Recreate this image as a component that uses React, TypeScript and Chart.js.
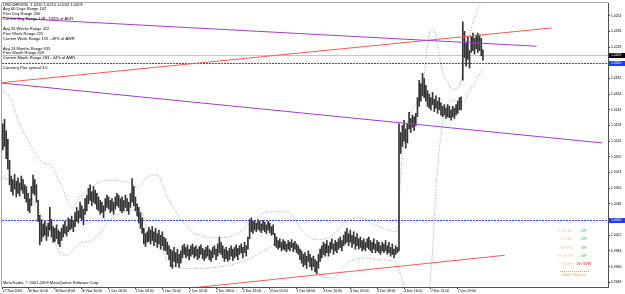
import React, { useEffect, useRef } from 'react';
import { Chart, registerables } from 'chart.js';

Chart.register(...registerables);

// ---------- text content ----------
const chartTitle = 'USDCHF,M30  1.0210 1.0215 1.0203 1.0209';
const infoLines = [
  'Avg 60 Days Range 102',
  'Prev Day Range 200',
  'Current Day Range 128 - 126% of ADR',
  '',
  'Avg 26 Weeks Range 322',
  'Prev Week Range 225',
  'Current Week Range 159 - 49% of AWR',
  '',
  'Avg 24 Months Range 635',
  'Prev Month Range 426',
  'Current Month Range 283 - 44% of AMR',
  '',
  'Currency Pair spread 3.0',
];
const copyrightText = 'MetaTrader, \u00a9 2001-2009 MetaQuotes Software Corp.';
const moveLabels = ['TODAY', 'Y-DAY', 'WEEK', 'MONTH', 'YEAR'];
const moveValues = ['UP', 'UP', 'UP', 'UP', 'DOWN'];
const movesTitle = 'Main Moves';

// ---------- axes ----------
const xTickIndex = [0, 15, 31, 47, 63, 79, 95, 111, 127, 143, 159, 175, 191, 207, 223, 239, 255, 271];
const xTickLabels = [
  '27 Nov 2009', '30 Nov 00:00', '30 Nov 08:00', '30 Nov 16:00', '1 Dec 00:00', '1 Dec 08:00',
  '1 Dec 16:00', '2 Dec 00:00', '2 Dec 08:00', '2 Dec 16:00', '3 Dec 00:00', '3 Dec 08:00',
  '3 Dec 16:00', '4 Dec 00:00', '4 Dec 08:00', '4 Dec 16:00', '7 Dec 01:00', '7 Dec 09:00',
];
const xSlots = 361;
const yTickValues = [
  0.9948, 0.9966, 0.9984, 1.0002, 1.0020, 1.0038, 1.0056, 1.0074, 1.0092,
  1.0110, 1.0128, 1.0146, 1.0164, 1.0182, 1.0200, 1.0218, 1.0236, 1.0254,
];
const yMin = 0.99426;
const yMax = 1.02686;

// ---------- price bars (M30 high / low) ----------
const barHigh = [
  1.0130, 1.0135, 1.0122, 1.0112, 1.0088, 1.0070, 1.0066, 1.0072, 1.0064, 1.0068,
  1.0062, 1.0070, 1.0066, 1.0060, 1.0058, 1.0050, 1.0044, 1.0058, 1.0071, 1.0066,
  1.0060, 1.0042, 1.0025, 1.0020, 1.0015, 1.0018, 1.0012, 1.0016, 1.0034, 1.0020,
  1.0012, 1.0010, 1.0014, 1.0008, 1.0006, 1.0010, 1.0014, 1.0018, 1.0012, 1.0022,
  1.0020, 1.0024, 1.0019, 1.0028, 1.0034, 1.0030, 1.0040, 1.0036, 1.0032, 1.0044,
  1.0048, 1.0056, 1.0060, 1.0052, 1.0058, 1.0054, 1.0050, 1.0046, 1.0042, 1.0040,
  1.0036, 1.0044, 1.0048, 1.0046, 1.0042, 1.0044, 1.0040, 1.0046, 1.0050, 1.0048,
  1.0044, 1.0046, 1.0042, 1.0048, 1.0044, 1.0040, 1.0050, 1.0067, 1.0058, 1.0046,
  1.0038, 1.0034, 1.0028, 1.0022, 1.0010, 1.0004, 1.0006, 1.0011, 1.0008, 1.0012,
  1.0006, 1.0010, 1.0004, 1.0008, 1.0002, 1.0006, 1.0000, 0.9998, 0.9994, 0.9990,
  0.9986, 0.9984, 0.9988, 0.9982, 0.9986, 0.9980, 0.9984, 0.9990, 0.9992, 0.9988,
  0.9991, 0.9986, 0.9990, 0.9992, 0.9988, 0.9990, 0.9986, 0.9989, 0.9991, 0.9987,
  0.9985, 0.9988, 0.9990, 0.9986, 0.9984, 0.9988, 0.9990, 0.9986, 0.9992, 1.0000,
  0.9994, 0.9990, 0.9986, 0.9988, 0.9984, 0.9987, 0.9990, 0.9986, 0.9988, 0.9991,
  0.9987, 0.9990, 0.9992, 0.9988, 0.9994, 0.9990, 1.0000, 1.0020, 1.0022, 1.0018,
  1.0019, 1.0016, 1.0020, 1.0018, 1.0015, 1.0019, 1.0017, 1.0014, 1.0018, 1.0016,
  1.0012, 1.0014, 1.0004, 1.0000, 0.9996, 0.9998, 0.9994, 0.9997, 0.9995, 0.9992,
  0.9996, 0.9994, 0.9997, 0.9993, 0.9995, 0.9992, 0.9990, 0.9986, 0.9984, 0.9980,
  0.9982, 0.9978, 0.9984, 0.9980, 0.9976, 0.9978, 0.9974, 0.9972, 0.9980, 0.9986,
  0.9990, 0.9994, 0.9992, 0.9996, 0.9990, 0.9994, 0.9998, 0.9992, 0.9996, 0.9994,
  0.9998, 1.0000, 0.9996, 1.0002, 1.0006, 1.0010, 1.0004, 1.0008, 1.0002, 1.0006,
  1.0000, 1.0004, 0.9998, 1.0000, 0.9996, 0.9998, 0.9994, 0.9998, 1.0000, 0.9996,
  0.9994, 0.9998, 0.9992, 0.9996, 0.9994, 0.9990, 0.9994, 0.9992, 0.9996, 0.9990,
  0.9994, 0.9988, 0.9992, 0.9986, 0.9990, 0.9988, 1.0130, 1.0120, 1.0128, 1.0134,
  1.0124, 1.0130, 1.0143, 1.0136, 1.0140, 1.0138, 1.0142, 1.0160, 1.0180, 1.0176,
  1.0188, 1.0182, 1.0174, 1.0168, 1.0164, 1.0160, 1.0166, 1.0158, 1.0162, 1.0156,
  1.0160, 1.0154, 1.0150, 1.0152, 1.0148, 1.0152, 1.0150, 1.0146, 1.0150, 1.0148,
  1.0152, 1.0156, 1.0160, 1.0161, 1.0247, 1.0236, 1.0224, 1.0230, 1.0214, 1.0230,
  1.0234, 1.0228, 1.0232, 1.0234, 1.0232, 1.0228, 1.0215,
];
const barLow = [
  1.0100, 1.0104, 1.0090, 1.0078, 1.0060, 1.0052, 1.0048, 1.0055, 1.0046, 1.0050,
  1.0047, 1.0054, 1.0050, 1.0044, 1.0040, 1.0030, 1.0028, 1.0036, 1.0050, 1.0048,
  1.0040, 1.0018, 0.9991, 0.9995, 1.0000, 1.0002, 0.9996, 1.0001, 1.0008, 1.0000,
  0.9994, 0.9995, 0.9998, 0.9992, 0.9989, 0.9996, 1.0000, 1.0004, 1.0001, 1.0006,
  1.0008, 1.0010, 1.0006, 1.0012, 1.0018, 1.0016, 1.0022, 1.0020, 1.0014, 1.0026,
  1.0030, 1.0038, 1.0042, 1.0036, 1.0040, 1.0038, 1.0032, 1.0030, 1.0026, 1.0028,
  1.0022, 1.0030, 1.0034, 1.0032, 1.0028, 1.0030, 1.0026, 1.0032, 1.0036, 1.0034,
  1.0030, 1.0028, 1.0030, 1.0034, 1.0030, 1.0026, 1.0034, 1.0040, 1.0036, 1.0030,
  1.0024, 1.0016, 1.0010, 1.0004, 0.9992, 0.9989, 0.9994, 0.9995, 0.9992, 0.9996,
  0.9990, 0.9994, 0.9988, 0.9992, 0.9986, 0.9990, 0.9985, 0.9984, 0.9980, 0.9974,
  0.9966, 0.9964, 0.9972, 0.9966, 0.9970, 0.9965, 0.9970, 0.9976, 0.9980, 0.9976,
  0.9978, 0.9974, 0.9978, 0.9980, 0.9976, 0.9978, 0.9974, 0.9976, 0.9980, 0.9975,
  0.9973, 0.9976, 0.9978, 0.9974, 0.9972, 0.9976, 0.9980, 0.9974, 0.9978, 0.9982,
  0.9980, 0.9976, 0.9972, 0.9975, 0.9972, 0.9974, 0.9978, 0.9973, 0.9976, 0.9978,
  0.9974, 0.9980, 0.9982, 0.9976, 0.9982, 0.9978, 0.9986, 0.9998, 1.0006, 1.0004,
  1.0008, 1.0006, 1.0009, 1.0007, 1.0005, 1.0008, 1.0006, 1.0004, 1.0008, 1.0005,
  1.0002, 1.0003, 0.9990, 0.9988, 0.9986, 0.9988, 0.9984, 0.9986, 0.9985, 0.9983,
  0.9986, 0.9984, 0.9988, 0.9983, 0.9986, 0.9982, 0.9980, 0.9974, 0.9970, 0.9966,
  0.9968, 0.9964, 0.9972, 0.9966, 0.9962, 0.9966, 0.9960, 0.9958, 0.9964, 0.9972,
  0.9976, 0.9980, 0.9978, 0.9982, 0.9978, 0.9982, 0.9986, 0.9980, 0.9984, 0.9982,
  0.9986, 0.9988, 0.9984, 0.9990, 0.9992, 0.9994, 0.9990, 0.9994, 0.9988, 0.9992,
  0.9986, 0.9990, 0.9986, 0.9988, 0.9984, 0.9986, 0.9984, 0.9988, 0.9986, 0.9984,
  0.9982, 0.9986, 0.9982, 0.9984, 0.9982, 0.9980, 0.9984, 0.9982, 0.9984, 0.9980,
  0.9982, 0.9978, 0.9980, 0.9976, 0.9980, 0.9982, 0.9984, 1.0096, 1.0104, 1.0110,
  1.0102, 1.0108, 1.0124, 1.0120, 1.0126, 1.0122, 1.0128, 1.0138, 1.0150, 1.0156,
  1.0162, 1.0160, 1.0156, 1.0150, 1.0148, 1.0146, 1.0152, 1.0144, 1.0148, 1.0142,
  1.0146, 1.0140, 1.0138, 1.0140, 1.0136, 1.0138, 1.0137, 1.0134, 1.0138, 1.0136,
  1.0140, 1.0142, 1.0146, 1.0146, 1.0180, 1.0206, 1.0196, 1.0204, 1.0194, 1.0212,
  1.0214, 1.0210, 1.0216, 1.0212, 1.0214, 1.0208, 1.0203,
];

// ---------- Bollinger-style envelope (dotted) ----------
const upperBandIdx = [
  0, 5, 9, 15, 24, 28, 36, 41, 47, 58, 66, 78, 80, 86, 92, 98, 106, 114, 126, 138, 150, 158, 170,
  178, 186, 196, 204, 212, 222, 230, 235, 237, 240, 244, 248, 251, 253, 255, 257, 259, 262, 265,
  268, 271, 273, 275, 278, 281, 284, 286,
];
const upperBand = [
  1.0169, 1.0157, 1.0134, 1.0111, 1.0085, 1.0083, 1.0054, 1.0034, 1.0048, 1.0063, 1.0065, 1.0060,
  1.0057, 1.0069, 1.0071, 1.0046, 1.0020, 1.0005, 0.9999, 1.0002, 1.0020, 1.0029, 1.0029,
  1.0008, 0.9997, 1.0001, 1.0017, 1.0022, 1.0014, 1.0008, 1.0006, 1.0071, 1.0123, 1.0146,
  1.0160, 1.0186, 1.0220, 1.0240, 1.0238, 1.0220, 1.0189, 1.0178, 1.0169, 1.0171, 1.0180,
  1.0203, 1.0232, 1.0251, 1.0266, 1.0272,
];
const lowerBandIdx = [
  0, 15, 22, 28, 34, 38, 46, 54, 64, 78, 82, 86, 94, 98, 106, 118, 146, 156, 164, 178, 188, 196,
  206, 214, 224, 234, 237, 240, 244, 250, 254, 256, 258, 261, 264, 268, 272, 275, 280, 286,
];
const lowerBand = [
  1.0069, 1.0051, 1.0028, 1.0008, 0.9982, 0.9979, 0.9993, 0.9997, 1.0020, 1.0031, 1.0031, 1.0008,
  0.9989, 0.9974, 0.9964, 0.9964, 0.9974, 0.9985, 0.9991, 0.9982, 0.9956, 0.9953, 0.9971,
  0.9976, 0.9974, 0.9971, 0.9956, 0.9937, 0.9922, 0.9922, 0.9939, 0.9985, 1.0054, 1.0117,
  1.0148, 1.0157, 1.0154, 1.0157, 1.0174, 1.0194,
];

// ---------- trend lines & levels ----------
const purpleTopIdx = [-2, 318];
const purpleTopPrice = [1.0252, 1.0219];
const purpleLowIdx = [-2, 357];
const purpleLowPrice = [1.0177, 1.0108];
const redTopIdx = [-2, 327];
const redTopPrice = [1.0177, 1.0240];
const redLowIdx = [110, 299];
const redLowPrice = [0.9941, 0.9979];
const bidPrice = 1.0209;
const levelPrices = [1.0200, 1.0020];

const FONT = '"Liberation Sans", Arial, sans-serif';

function lineSet(idx: number[], vals: number[], color: string, extra: any = {}) {
  return {
    type: 'line' as const,
    data: idx.map((x, k) => ({ x, y: vals[k] })),
    borderColor: color,
    borderWidth: 1,
    pointRadius: 0,
    fill: false,
    order: 1,
    ...extra,
  };
}

const overlayPlugin = {
  id: 'mtOverlay',
  beforeDraw(chart: any) {
    const { ctx, width, height } = chart;
    ctx.save();
    ctx.fillStyle = '#ffffff';
    ctx.fillRect(0, 0, width, height);
    ctx.restore();
  },
  beforeDatasetsDraw(chart: any) {
    // horizontal price levels, pixel-snapped through the y scale
    const { ctx, chartArea: a, scales } = chart;
    const ys = scales.y;
    ctx.save();
    ctx.lineWidth = 1;
    const hline = (p: number, color: string, dash: number[]) => {
      const py = Math.round(ys.getPixelForValue(p)) + 0.5;
      ctx.strokeStyle = color;
      ctx.setLineDash(dash);
      ctx.beginPath();
      ctx.moveTo(a.left, py);
      ctx.lineTo(a.right, py);
      ctx.stroke();
    };
    hline(bidPrice, '#c4c4c4', []);
    levelPrices.forEach((p) => hline(p, '#3344ff', [2, 1]));
    ctx.restore();
  },
  afterDraw(chart: any) {
    const { ctx, chartArea: a, scales, width } = chart;
    const ys = scales.y;
    ctx.save();
    // window frame (top + left)
    ctx.strokeStyle = '#a8a8a8';
    ctx.lineWidth = 1;
    ctx.beginPath();
    ctx.moveTo(a.left - 0.5, a.bottom);
    ctx.lineTo(a.left - 0.5, a.top - 0.5);
    ctx.lineTo(a.right, a.top - 0.5);
    ctx.stroke();

    // info block
    ctx.font = `4px ${FONT}`;
    ctx.fillStyle = '#000';
    ctx.textBaseline = 'middle';
    ctx.textAlign = 'left';
    ctx.fillText(chartTitle, a.left + 1, a.top + 1.4);
    infoLines.forEach((t, k) => {
      if (t) ctx.fillText(t, a.left + 1, a.top + 6.2 + k * 4.9);
    });

    // copyright
    ctx.fillText(copyrightText, a.left + 1, a.bottom - 4);

    // main moves table
    ctx.font = `4.4px ${FONT}`;
    moveLabels.forEach((t, k) => {
      const yy = a.bottom - 56 + k * 8.2;
      ctx.textAlign = 'right';
      ctx.fillStyle = '#f6cfae';
      ctx.fillText(t, a.right - 35, yy);
      ctx.textAlign = 'center';
      ctx.fillStyle = moveValues[k] === 'UP' ? '#3ccf3c' : '#ff2a2a';
      ctx.fillText(moveValues[k], a.right - 24, yy);
    });
    ctx.strokeStyle = '#f0a050';
    ctx.setLineDash([1, 1]);
    ctx.beginPath();
    ctx.moveTo(a.right - 48, a.bottom - 15.5);
    ctx.lineTo(a.right - 19, a.bottom - 15.5);
    ctx.stroke();
    ctx.setLineDash([]);
    ctx.textAlign = 'center';
    ctx.fillStyle = '#f0a050';
    ctx.fillText(movesTitle, a.right - 34, a.bottom - 12);

    // price boxes on the right axis
    ctx.font = `3.4px ${FONT}`;
    ctx.textAlign = 'left';
    const box = (p: number, bg: string) => {
      const py = Math.round(ys.getPixelForValue(p)) + 0.5;
      ctx.fillStyle = bg;
      ctx.fillRect(a.right + 1, py - 2.5, width - a.right - 1, 5);
      ctx.fillStyle = '#ffffff';
      ctx.fillText(p.toFixed(4), a.right + 3, py);
    };
    levelPrices.forEach((p) => box(p, '#1f3cff'));
    box(bidPrice, '#000000');
    ctx.restore();
  },
};

export default function App() {
  const ref = useRef<HTMLCanvasElement | null>(null);
  useEffect(() => {
    document.body.style.margin = '0';
    const canvas = ref.current;
    if (!canvas) return;
    const chart = new Chart(canvas, {
      type: 'bar',
      data: {
        datasets: [
          {
            type: 'bar',
            data: barHigh.map((h, i) => ({ x: i, y: [barLow[i], h] })) as any,
            backgroundColor: '#333333',
            borderWidth: 0,
            barThickness: 1,
            grouped: false,
            order: 3,
          } as any,
          lineSet(upperBandIdx, upperBand, '#a9a9a9', { borderDash: [1, 1.5], cubicInterpolationMode: 'monotone', order: 4 }),
          lineSet(lowerBandIdx, lowerBand, '#a9a9a9', { borderDash: [1, 1.5], cubicInterpolationMode: 'monotone', order: 4 }),
          lineSet(purpleTopIdx, purpleTopPrice, '#a93ccb'),
          lineSet(purpleLowIdx, purpleLowPrice, '#a93ccb'),
          lineSet(redTopIdx, redTopPrice, '#ff5a5a'),
          lineSet(redLowIdx, redLowPrice, '#ff5a5a'),
        ] as any,
      },
      options: {
        animation: false,
        responsive: false,
        devicePixelRatio: 1,
        events: [],
        layout: { padding: { left: 2, top: 3, right: 0, bottom: 0 } },
        plugins: { legend: { display: false }, tooltip: { enabled: false } },
        scales: {
          x: {
            type: 'linear',
            min: -0.5,
            max: xSlots - 0.5,
            offset: false,
            afterBuildTicks: (s: any) => {
              s.ticks = xTickIndex.map((v) => ({ value: v }));
            },
            afterFit: (s: any) => {
              s.height = 7;
            },
            ticks: {
              autoSkip: false,
              maxRotation: 0,
              minRotation: 0,
              align: 'start',
              padding: 0,
              color: '#000',
              font: { size: 3.4, family: FONT },
              callback: (_v: any, i: number) => xTickLabels[i],
            },
            grid: { drawOnChartArea: false, drawTicks: true, tickLength: 2, color: '#404040', offset: false },
            border: { display: true, color: '#505050' },
          },
          y: {
            type: 'linear',
            position: 'right',
            min: yMin,
            max: yMax,
            afterBuildTicks: (s: any) => {
              s.ticks = yTickValues.map((v) => ({ value: v }));
            },
            afterFit: (s: any) => {
              s.width = 17;
            },
            ticks: {
              autoSkip: false,
              padding: 1,
              color: '#000',
              font: { size: 3.4, family: FONT },
              callback: (v: any) => Number(v).toFixed(4),
            },
            grid: { drawOnChartArea: false, drawTicks: true, tickLength: 2, color: '#404040' },
            border: { display: true, color: '#505050' },
          },
        },
      } as any,
      plugins: [overlayPlugin],
    });
    return () => chart.destroy();
  }, []);
  return (
    <div style={{ width: 625, height: 294 }}>
      <canvas ref={ref} width={625} height={294} style={{ display: 'block' }} />
    </div>
  );
}
